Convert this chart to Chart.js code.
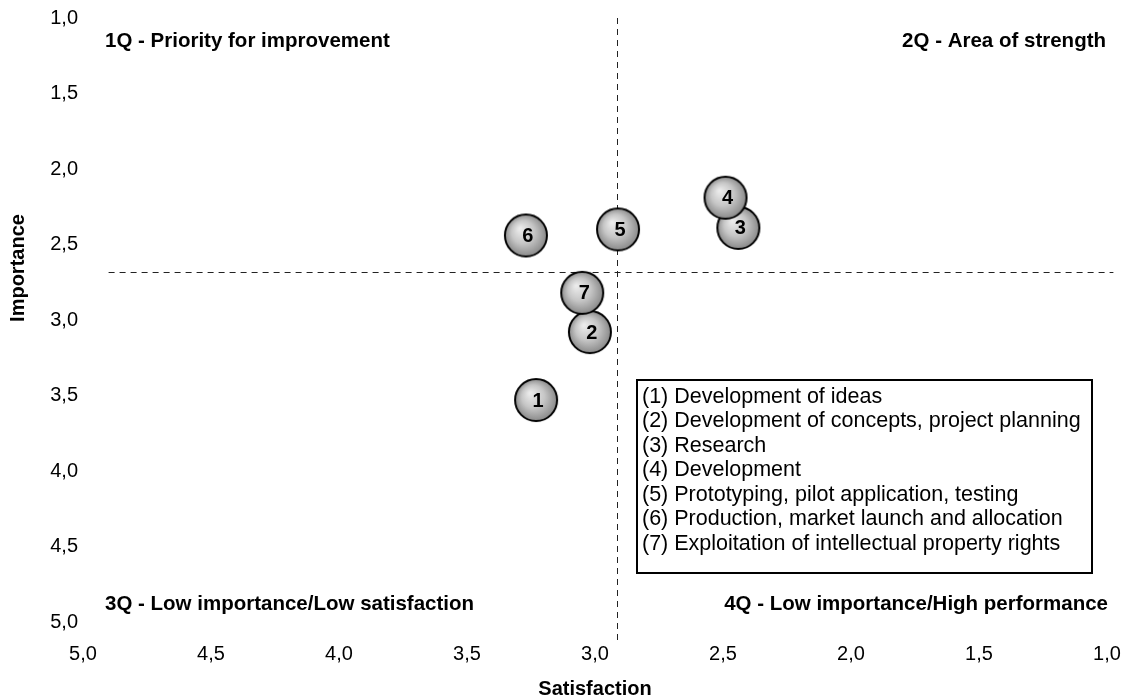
<!DOCTYPE html>
<html>
<head>
<meta charset="utf-8">
<script src="https://cdn.jsdelivr.net/npm/chart.js@4.4.1/dist/chart.umd.min.js"></script>
<style>
  html, body { margin: 0; padding: 0; background: #fff; }
  #wrap { width: 1129px; height: 699px; position: relative; }
</style>
</head>
<body>
<div id="wrap"><canvas id="chart"></canvas></div>
<script>
// activity numbers and their scores
const itemIds = ['1', '2', '3', '4', '5', '6', '7'];
const satisfaction = [3.23, 3.02, 2.44, 2.49, 2.91, 3.27, 3.05];
const importance = [3.53, 3.08, 2.39, 2.19, 2.40, 2.44, 2.82];

const legendLines = [
    '(1) Development of ideas',
    '(2) Development of concepts, project planning',
    '(3) Research',
    '(4) Development',
    '(5) Prototyping, pilot application, testing',
    '(6) Production, market launch and allocation',
    '(7) Exploitation of intellectual property rights'
];
const quadrantLabels = [
    '1Q - Priority for improvement',
    '2Q - Area of strength',
    '3Q - Low importance/Low satisfaction',
    '4Q - Low importance/High performance'
];
const axisMin = 1;
const axisMax = 5;
const tickStep = 0.5;
const splitSatisfaction = 2.915;
const splitImportance = 2.68;

const FONT = '"Liberation Sans", Arial, sans-serif';
const fmt = v => v.toFixed(1).replace('.', ',');

// grey shaded bubble used as point style
function makeBubble() {
    const c = document.createElement('canvas');
    c.width = 48; c.height = 48;
    const g = c.getContext('2d');
    const grad = g.createRadialGradient(18, 17, 1, 24, 24, 22);
    grad.addColorStop(0, '#ebebeb');
    grad.addColorStop(0.5, '#c6c6c6');
    grad.addColorStop(1, '#858585');
    g.beginPath();
    g.arc(24, 24, 21, 0, Math.PI * 2);
    g.fillStyle = grad;
    g.fill();
    g.lineWidth = 2;
    g.strokeStyle = '#000';
    g.stroke();
    return c;
}

const overlay = {
    id: 'overlay',
    beforeDatasetsDraw(chart) {
        const ctx = chart.ctx;
        const xs = chart.scales.x, ys = chart.scales.y;
        ctx.save();
        ctx.strokeStyle = '#222';
        ctx.lineWidth = 1;
        ctx.setLineDash([6, 5]);
        const vx = Math.round(xs.getPixelForValue(splitSatisfaction)) + 0.5;
        ctx.beginPath();
        ctx.moveTo(vx, ys.getPixelForValue(1.0));
        ctx.lineTo(vx, ys.getPixelForValue(5.12));
        ctx.stroke();
        const hy = Math.round(ys.getPixelForValue(splitImportance)) + 0.5;
        ctx.beginPath();
        ctx.moveTo(xs.getPixelForValue(4.9), hy);
        ctx.lineTo(xs.getPixelForValue(0.975), hy);
        ctx.stroke();
        ctx.restore();
    },
    afterDatasetsDraw(chart) {
        const ctx = chart.ctx;
        const ca = chart.chartArea;
        ctx.save();

        // numbers on the bubbles
        const meta = chart.getDatasetMeta(0);
        ctx.fillStyle = '#000';
        ctx.font = 'bold 20px ' + FONT;
        ctx.textAlign = 'center';
        ctx.textBaseline = 'middle';
        meta.data.forEach((pt, i) => {
            ctx.fillText(itemIds[i], pt.x + 2, pt.y + 1);
        });

        // quadrant captions
        ctx.font = 'bold 20.5px ' + FONT;
        ctx.textAlign = 'left';
        ctx.fillText(quadrantLabels[0], ca.left + 22, ca.top + 23);
        ctx.fillText(quadrantLabels[2], ca.left + 22, ca.bottom - 18);
        ctx.textAlign = 'right';
        ctx.fillText(quadrantLabels[1], ca.right - 1, ca.top + 23);
        ctx.fillText(quadrantLabels[3], ca.right + 1, ca.bottom - 18);

        // y axis title, sits above the middle of the plot like in the original
        ctx.save();
        ctx.translate(18, 268);
        ctx.rotate(-Math.PI / 2);
        ctx.textAlign = 'center';
        ctx.font = 'bold 20px ' + FONT;
        ctx.fillText('Importance', 0, 0);
        ctx.restore();

        // legend text box
        const bx = ca.left + 554, by = ca.top + 362, bw = 455, bh = 193;
        ctx.fillStyle = '#fff';
        ctx.fillRect(bx, by, bw, bh);
        ctx.strokeStyle = '#000';
        ctx.lineWidth = 2;
        ctx.strokeRect(bx, by, bw, bh);
        ctx.fillStyle = '#000';
        ctx.font = '21.5px ' + FONT;
        ctx.textAlign = 'left';
        legendLines.forEach((t, i) => {
            ctx.fillText(t, bx + 5, by + 17 + i * 24.5);
        });
        ctx.restore();
    }
};

const points = satisfaction.map((s, i) => ({ x: s, y: importance[i] }));

new Chart(document.getElementById('chart'), {
    type: 'scatter',
    data: {
        datasets: [{
            label: 'Activities',
            data: points,
            pointStyle: makeBubble(),
            pointRadius: 22,
            pointHoverRadius: 22
        }]
    },
    options: {
        responsive: true,
        maintainAspectRatio: false,
        animation: false,
        events: [],
        layout: { autoPadding: false, padding: { top: 18, right: 22, left: 0, bottom: 0 } },
        plugins: {
            legend: { display: false },
            tooltip: { enabled: false }
        },
        scales: {
            x: {
                type: 'linear',
                reverse: true,
                min: axisMin,
                max: axisMax,
                afterFit: s => {
                    s.height = 77;
                    s.paddingLeft = 0;
                    s.paddingRight = 0;
                },
                grid: { display: false, drawTicks: false },
                border: { display: false },
                ticks: {
                    stepSize: tickStep,
                    padding: 20,
                    color: '#000',
                    font: { family: FONT, size: 20 },
                    callback: v => fmt(v)
                },
                title: {
                    display: true,
                    text: 'Satisfaction',
                    color: '#000',
                    font: { family: FONT, size: 20, weight: 'bold', lineHeight: 1 },
                    padding: { top: 0, bottom: 0 }
                }
            },
            y: {
                type: 'linear',
                reverse: true,
                min: axisMin,
                max: axisMax,
                afterFit: s => {
                    s.width = 83;
                    s.paddingTop = 0;
                    s.paddingBottom = 0;
                },
                grid: { display: false, drawTicks: false },
                border: { display: false },
                ticks: {
                    stepSize: tickStep,
                    padding: 5,
                    color: '#000',
                    font: { family: FONT, size: 20 },
                    callback: v => fmt(v)
                }
            }
        }
    },
    plugins: [overlay]
});
</script>
</body>
</html>
